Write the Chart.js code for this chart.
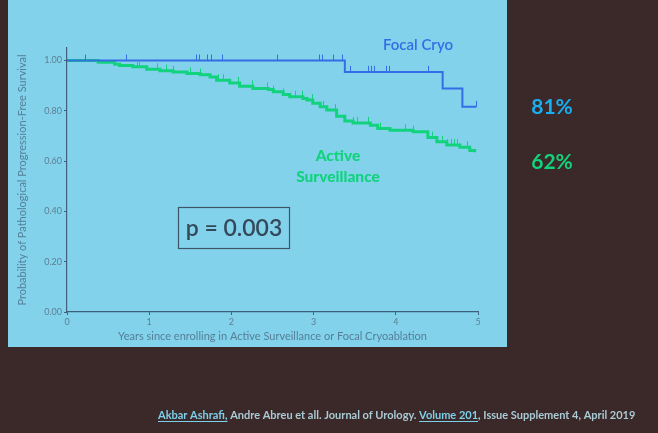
<!DOCTYPE html>
<html>
<head>
<meta charset="utf-8">
<script src="https://cdn.jsdelivr.net/npm/chart.js@4.4.1/dist/chart.umd.min.js"></script>
<style>
  html, body { margin: 0; padding: 0; background: #3b2829; }
  #wrap { width: 658px; height: 433px; position: relative; }
</style>
</head>
<body>
<div id="wrap"><canvas id="km" width="658" height="433"></canvas></div>
<script>
// --- data ---
const xTicks = [0, 1, 2, 3, 4, 5];
const yTicks = [0, 0.2, 0.4, 0.6, 0.8, 1.0];

// Focal Cryo: event times (years) and survival after each step
const cryoTimes = [0, 3.38, 4.57, 4.81, 4.98];
const cryoSurv  = [1.0, 0.955, 0.889, 0.816, 0.816];
const cryoCensor = [0.22, 0.72, 1.57, 1.61, 1.70, 1.75, 1.88, 2.56, 3.06, 3.10, 3.24, 3.35,
  3.44, 3.66, 3.70, 3.73, 3.88, 3.92, 4.39, 4.98];

// Active Surveillance
const asTimes = [0, 0.38, 0.58, 0.64, 0.80, 0.97, 1.13, 1.29, 1.46, 1.62, 1.74, 1.82, 1.98,
  2.10, 2.26, 2.45, 2.51, 2.63, 2.71, 2.87, 2.92, 2.99, 3.08, 3.16, 3.28, 3.38, 3.48, 3.69,
  3.78, 3.93, 4.21, 4.39, 4.50, 4.62, 4.78, 4.90, 4.96];
const asSurv = [1.0, 0.993, 0.985, 0.98, 0.975, 0.965, 0.96, 0.955, 0.949, 0.944, 0.935, 0.922,
  0.911, 0.898, 0.889, 0.885, 0.876, 0.865, 0.856, 0.849, 0.843, 0.83, 0.816, 0.803, 0.779,
  0.760, 0.752, 0.743, 0.730, 0.723, 0.717, 0.694, 0.677, 0.664, 0.655, 0.642, 0.635];
const asCensor = [0.85, 0.88, 1.10, 1.20, 1.29, 1.50, 1.62, 1.84, 1.90, 2.08, 2.25, 2.43, 2.51,
  2.63, 2.77, 2.86, 2.98, 3.12, 3.26, 3.48, 3.53, 3.66, 3.81, 4.11, 4.21, 4.44, 4.56, 4.62,
  4.67, 4.71, 4.74, 4.87];

const blue = "#336ee6";
const green = "#12d27e";

function survAt(times, surv, t) {
  let s = surv[0];
  for (let i = 0; i < times.length; i++) if (times[i] <= t) s = surv[i];
  return s;
}

// slide background + annotations
const slidePlugin = {
  id: "slide",
  beforeDraw(chart) {
    const c = chart.ctx;
    c.save();
    c.fillStyle = "#3b2829";
    c.fillRect(0, 0, chart.width, chart.height);
    c.fillStyle = "#82d2ec";
    c.fillRect(8, 0, 499, 347);
    c.restore();
  },
  afterDatasetsDraw(chart) {
    const c = chart.ctx;
    const xs = chart.scales.x, ys = chart.scales.y;
    c.save();
    // censor ticks
    c.lineWidth = 1;
    const ticks = (times, surv, cens, col) => {
      c.strokeStyle = col;
      cens.forEach((t) => {
        const px = Math.round(xs.getPixelForValue(t)) + 0.5;
        const py = ys.getPixelForValue(survAt(times, surv, t));
        c.beginPath();
        c.moveTo(px, py);
        c.lineTo(px, py - 6);
        c.stroke();
      });
    };
    ticks(asTimes, asSurv, asCensor, green);
    ticks(cryoTimes, cryoSurv, cryoCensor, blue);

    // labels
    c.textAlign = "center";
    c.textBaseline = "middle";
    c.fillStyle = blue;
    c.font = "600 15px Lato";
    c.fillText("Focal Cryo", 418, 45);
    c.fillStyle = green;
    c.font = "900 15.5px Lato";
    c.fillText("Active", 338, 156);
    c.fillText("Surveillance", 338, 177);

    // p-value box
    c.strokeStyle = "#3e5566";
    c.lineWidth = 1.2;
    c.strokeRect(178.5, 207.5, 111, 41);
    c.fillStyle = "#34495a";
    c.font = "600 23px Lato";
    c.fillText("p = 0.003", 234, 229);

    // percentages at right
    c.font = "bold 21px Lato";
    c.fillStyle = "#18aef0";
    c.fillText("81%", 552, 107);
    c.fillStyle = "#12d27a";
    c.fillText("62%", 552, 162);

    // citation
    c.textAlign = "left";
    c.font = "bold 11px Lato";
    const parts = [
      ["Akbar Ashrafi,", true],
      [" Andre Abreu et all. Journal of Urology. ", false],
      ["Volume 201", true],
      [", Issue Supplement 4, April 2019", false]
    ];
    let x = 158;
    const y = 415;
    parts.forEach(([txt, ul]) => {
      const w = c.measureText(txt).width;
      c.fillStyle = ul ? "#7cd0ea" : "#a9cbd4";
      c.fillText(txt, x, y);
      if (ul) {
        c.fillRect(x, y + 6, w, 1);
      }
      x += w;
    });
    c.restore();
  }
};

new Chart(document.getElementById("km"), {
  type: "scatter",
  data: {
    datasets: [
      {
        label: "Focal Cryo",
        data: cryoTimes.map((t, i) => ({ x: t, y: cryoSurv[i] })),
        showLine: true,
        stepped: true,
        borderColor: blue,
        borderWidth: 2,
        pointRadius: 0
      },
      {
        label: "Active Surveillance",
        data: asTimes.map((t, i) => ({ x: t, y: asSurv[i] })),
        showLine: true,
        stepped: true,
        borderColor: green,
        borderWidth: 3,
        pointRadius: 0
      }
    ]
  },
  options: {
    responsive: false,
    animation: false,
    layout: { padding: { left: 10, top: 48, right: 180, bottom: 90 } },
    plugins: { legend: { display: false }, tooltip: { enabled: false } },
    scales: {
      x: {
        type: "linear",
        min: 0,
        max: 5,
        afterBuildTicks: (s) => { s.ticks = xTicks.map((v) => ({ value: v })); },
        afterFit: (s) => { s.height = 31; },
        border: { display: true, color: "#3f5f7c", width: 1.2 },
        grid: { drawOnChartArea: false, drawTicks: true, tickLength: 3, color: "#3f5f7c" },
        ticks: { color: "#5e7f92", font: { family: "Lato", size: 9 }, padding: 2, maxRotation: 0 },
        title: {
          display: true,
          text: "Years since enrolling in Active Surveillance or Focal Cryoablation",
          color: "#557f96",
          font: { family: "Lato", size: 11 },
          padding: 0
        }
      },
      y: {
        min: 0,
        max: 1.05,
        afterBuildTicks: (s) => { s.ticks = yTicks.map((v) => ({ value: v })); },
        afterFit: (s) => { s.width = 57; },
        border: { display: true, color: "#3f5f7c", width: 1.2 },
        grid: { drawOnChartArea: false, drawTicks: true, tickLength: 3, color: "#3f5f7c" },
        ticks: {
          color: "#5e7f92",
          font: { family: "Lato", size: 9 },
          padding: 2,
          callback: (v) => v.toFixed(2)
        },
        title: {
          display: true,
          text: "Probability of Pathological Progression-Free Survival",
          color: "#557f96",
          font: { family: "Lato", size: 11 },
          padding: { top: 6 }
        }
      }
    }
  },
  plugins: [slidePlugin]
});
</script>
</body>
</html>
